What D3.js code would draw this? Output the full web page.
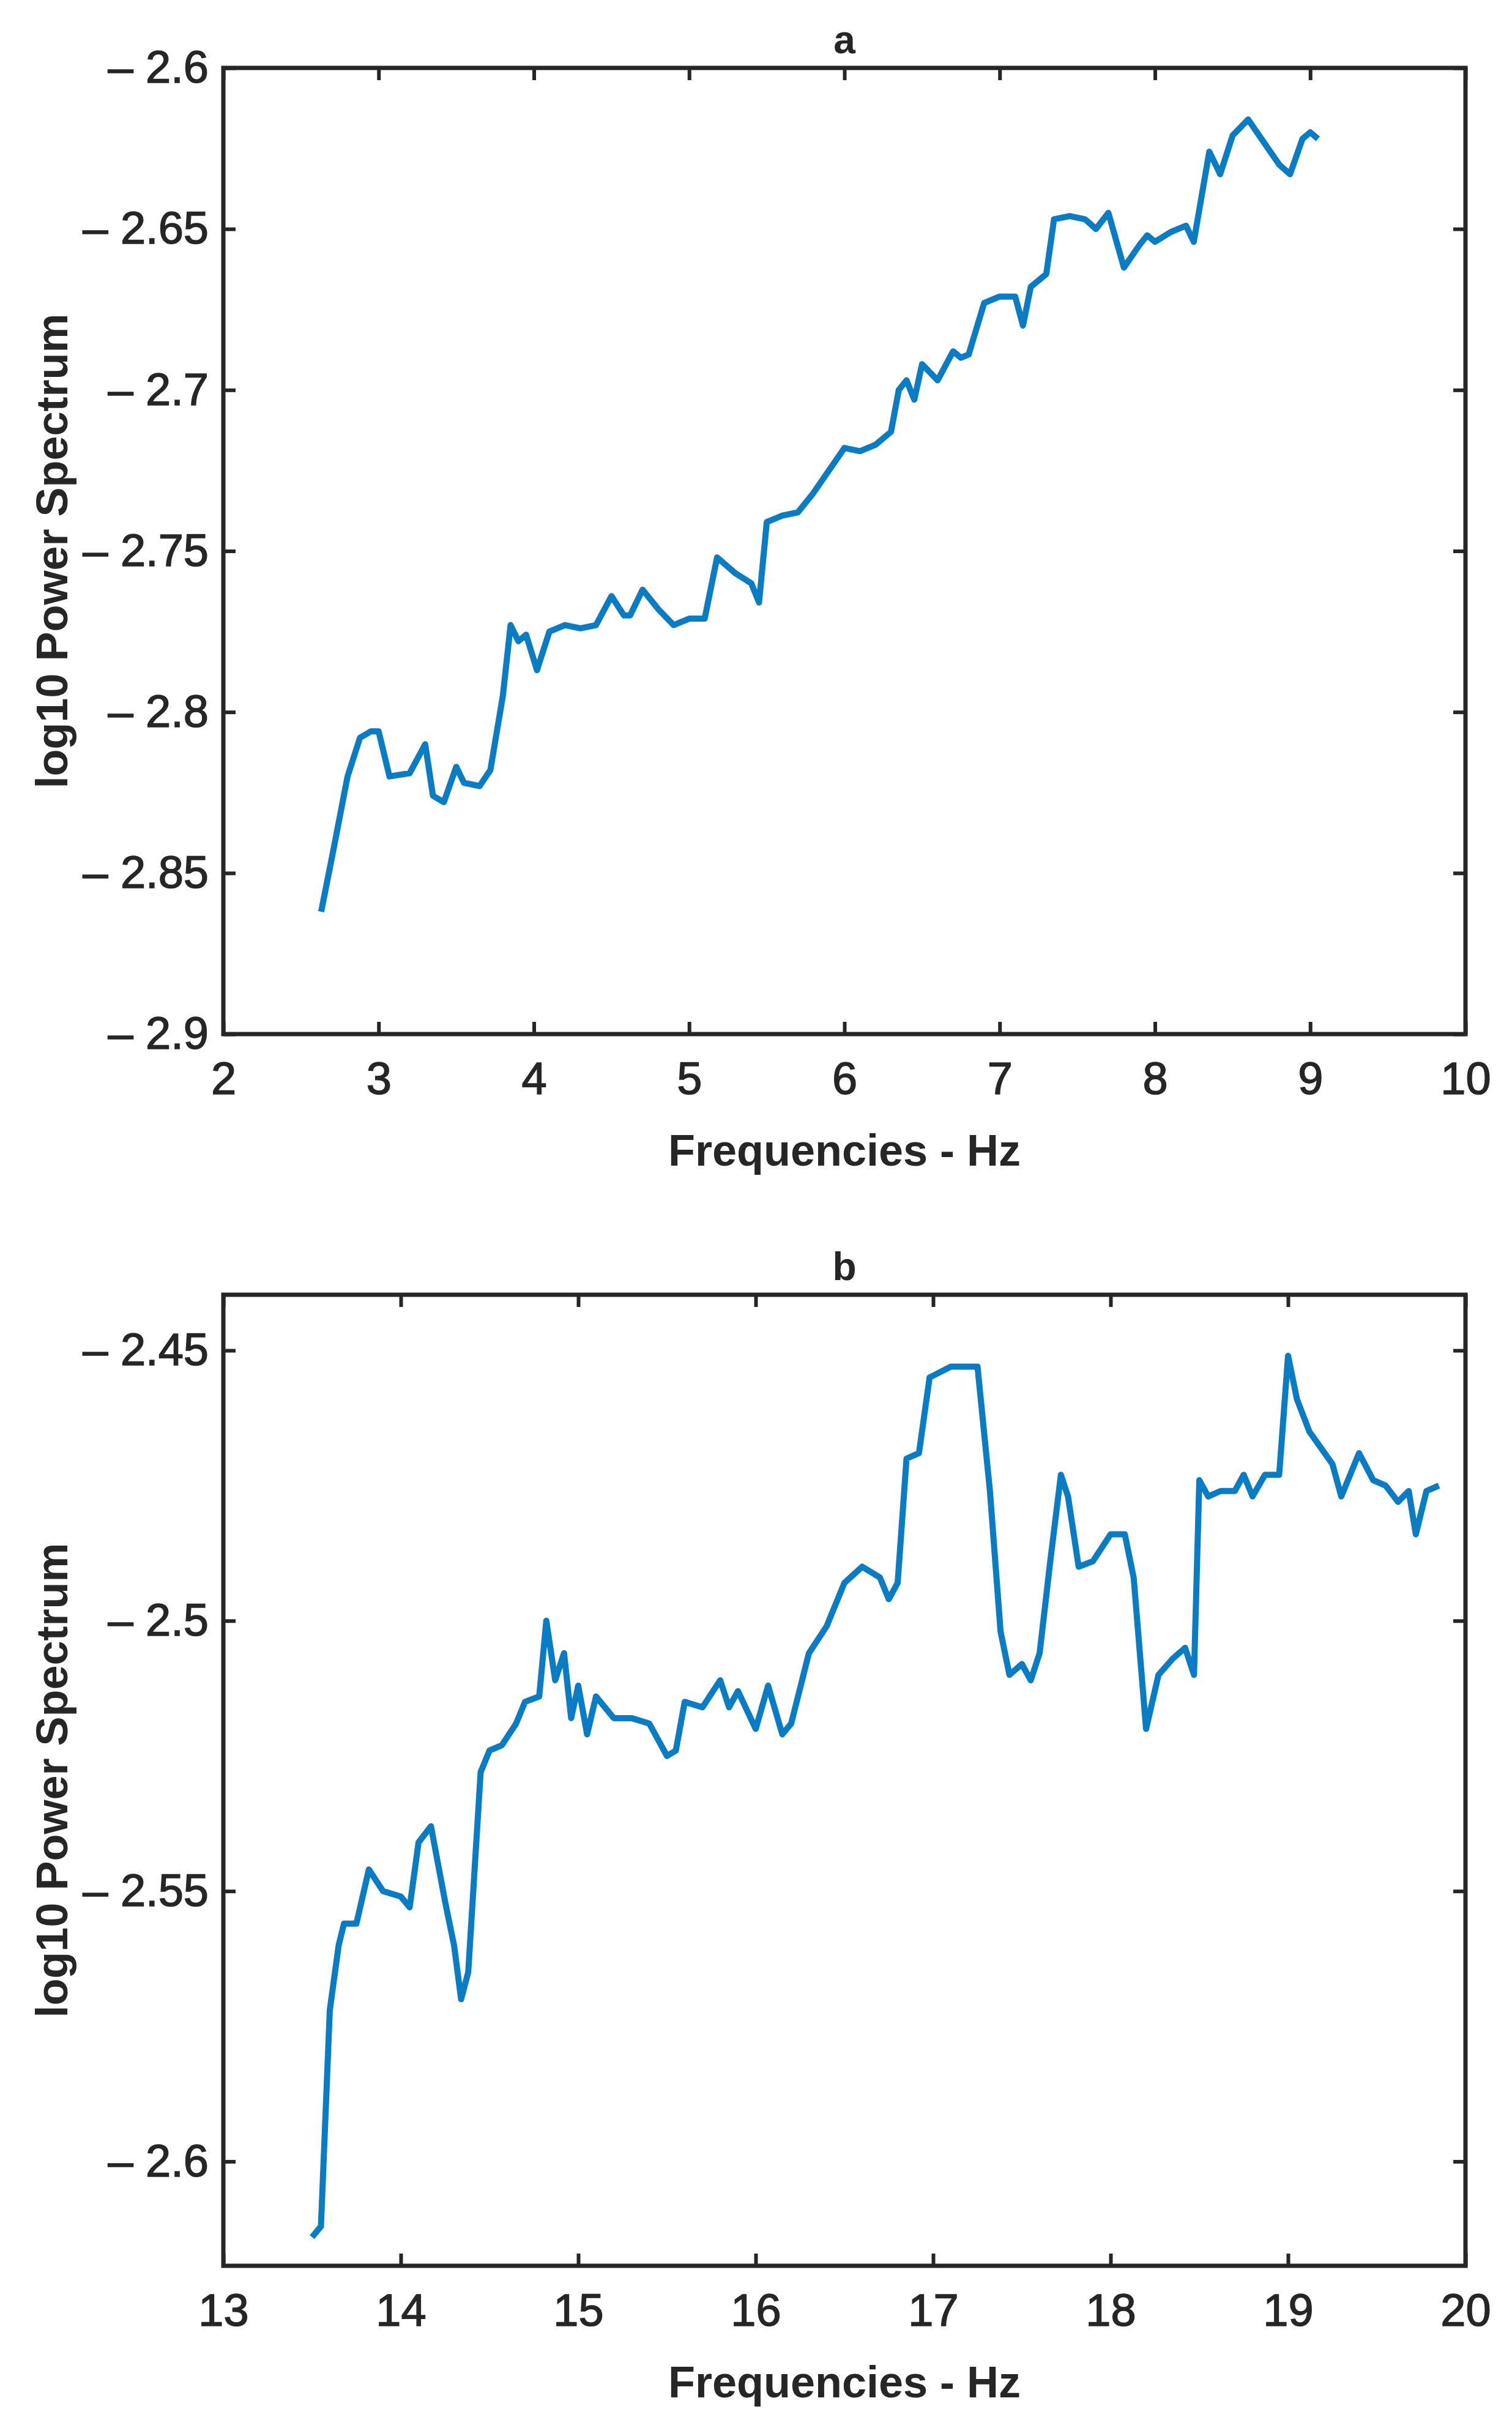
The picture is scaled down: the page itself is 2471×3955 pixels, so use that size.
<!DOCTYPE html>
<html>
<head>
<style>
  body { margin: 0; padding: 0; background: #fff; }
  svg { display: block; }
  text { font-family: "Liberation Sans", Arial, sans-serif; fill: #262626; }
</style>
<script src="https://cdnjs.cloudflare.com/ajax/libs/d3/7.8.5/d3.min.js"></script>
</head>
<body>
<svg width="2471" height="3955"></svg>
<script>
// panel a: 2-10 Hz
const freqA = [2.63,2.7,2.8,2.88,2.95,3.0,3.07,3.2,3.3,3.35,3.42,3.5,3.55,3.65,3.72,3.8,3.85,3.9,3.95,4.02,4.1,4.2,4.3,4.4,4.5,4.58,4.62,4.7,4.8,4.9,5.0,5.1,5.18,5.3,5.4,5.45,5.5,5.6,5.7,5.8,5.9,6.0,6.1,6.2,6.3,6.35,6.4,6.45,6.5,6.6,6.7,6.75,6.8,6.9,7.0,7.1,7.15,7.2,7.3,7.35,7.45,7.55,7.62,7.7,7.8,7.9,7.95,8.0,8.1,8.2,8.25,8.35,8.42,8.5,8.6,8.7,8.8,8.87,8.95,9.0,9.05];
const powerA = [-2.862,-2.845,-2.82,-2.808,-2.806,-2.806,-2.82,-2.819,-2.81,-2.826,-2.828,-2.817,-2.822,-2.823,-2.818,-2.795,-2.773,-2.778,-2.776,-2.787,-2.775,-2.773,-2.774,-2.773,-2.764,-2.770,-2.770,-2.762,-2.768,-2.773,-2.771,-2.771,-2.752,-2.757,-2.760,-2.766,-2.741,-2.739,-2.738,-2.732,-2.725,-2.718,-2.719,-2.717,-2.713,-2.700,-2.697,-2.703,-2.692,-2.697,-2.688,-2.690,-2.689,-2.673,-2.671,-2.671,-2.680,-2.668,-2.664,-2.647,-2.646,-2.647,-2.650,-2.645,-2.662,-2.655,-2.652,-2.654,-2.651,-2.649,-2.654,-2.626,-2.633,-2.621,-2.616,-2.623,-2.630,-2.633,-2.622,-2.620,-2.622];
const xTicksA = [2,3,4,5,6,7,8,9,10];
const yTicksA = [-2.6,-2.65,-2.7,-2.75,-2.8,-2.85,-2.9];

// panel b: 13-20 Hz
const freqB = [13.5,13.55,13.6,13.65,13.68,13.75,13.82,13.9,14.0,14.05,14.1,14.17,14.25,14.3,14.34,14.38,14.45,14.5,14.57,14.65,14.7,14.78,14.82,14.87,14.92,14.96,15.0,15.05,15.1,15.2,15.3,15.4,15.5,15.55,15.6,15.7,15.8,15.85,15.9,16.0,16.07,16.15,16.2,16.3,16.4,16.5,16.6,16.7,16.75,16.8,16.85,16.92,16.98,17.1,17.25,17.32,17.38,17.43,17.5,17.55,17.6,17.66,17.72,17.76,17.82,17.9,18.0,18.08,18.13,18.2,18.27,18.35,18.42,18.47,18.5,18.55,18.62,18.7,18.75,18.8,18.87,18.95,19.0,19.05,19.12,19.25,19.3,19.4,19.48,19.55,19.62,19.68,19.72,19.78,19.85];
const powerB = [-2.614,-2.612,-2.572,-2.560,-2.556,-2.556,-2.546,-2.550,-2.551,-2.553,-2.541,-2.538,-2.552,-2.560,-2.570,-2.565,-2.528,-2.524,-2.523,-2.519,-2.515,-2.514,-2.500,-2.511,-2.506,-2.518,-2.512,-2.521,-2.514,-2.518,-2.518,-2.519,-2.525,-2.524,-2.515,-2.516,-2.511,-2.516,-2.513,-2.520,-2.512,-2.521,-2.519,-2.506,-2.501,-2.493,-2.490,-2.492,-2.496,-2.493,-2.470,-2.469,-2.455,-2.453,-2.453,-2.476,-2.502,-2.510,-2.508,-2.511,-2.506,-2.489,-2.473,-2.477,-2.490,-2.489,-2.484,-2.484,-2.492,-2.520,-2.510,-2.507,-2.505,-2.510,-2.474,-2.477,-2.476,-2.476,-2.473,-2.477,-2.473,-2.473,-2.451,-2.459,-2.465,-2.471,-2.477,-2.469,-2.474,-2.475,-2.478,-2.476,-2.484,-2.476,-2.475];
const xTicksB = [13,14,15,16,17,18,19,20];
const yTicksB = [-2.45,-2.5,-2.55,-2.6];

const svg = d3.select('svg');
const left = 365, right = 2395;
const fmt = d => '\u2013 ' + String(Math.abs(d));

function panel(title, top, bottom, xDom, yDom, xTicks, yTicks, xs, ys) {
  const x = d3.scaleLinear().domain(xDom).range([left, right]);
  const y = d3.scaleLinear().domain(yDom).range([bottom, top]);
  const g = svg.append('g');
  const tl = 20;

  // inward ticks on all four sides
  g.append('g').attr('transform', `translate(0,${bottom})`)
    .call(d3.axisBottom(x).tickValues(xTicks).tickSize(-tl).tickPadding(45).tickFormat(d3.format('d')));
  g.append('g').attr('transform', `translate(0,${top})`)
    .call(d3.axisTop(x).tickValues(xTicks).tickSize(-tl).tickFormat(''));
  g.append('g').attr('transform', `translate(${left},0)`)
    .call(d3.axisLeft(y).tickValues(yTicks).tickSize(-tl).tickPadding(24).tickFormat(fmt));
  g.append('g').attr('transform', `translate(${right},0)`)
    .call(d3.axisRight(y).tickValues(yTicks).tickSize(-tl).tickFormat(''));
  g.selectAll('.domain').remove();
  g.selectAll('.tick line').attr('stroke', '#262626').attr('stroke-width', 6);
  g.selectAll('.tick text').attr('font-size', 74).attr('fill', '#262626')
    .attr('stroke', '#262626').attr('stroke-width', 1.5)
    .attr('font-family', '"Liberation Sans", Arial, sans-serif');

  const line = d3.line().x((d, i) => x(xs[i])).y(d => y(d));
  g.append('path').datum(ys).attr('d', line)
    .attr('fill', 'none').attr('stroke', '#0a7cc4').attr('stroke-width', 10)
    .attr('stroke-linejoin', 'round');

  g.append('rect').attr('x', left).attr('y', top)
    .attr('width', right - left).attr('height', bottom - top)
    .attr('fill', 'none').attr('stroke', '#262626').attr('stroke-width', 7);

  g.append('text').attr('x', (left + right) / 2).attr('y', top - 24)
    .attr('text-anchor', 'middle').attr('font-size', 64).attr('font-weight', 'bold').text(title);
  g.append('text').attr('x', (left + right) / 2).attr('y', bottom + 215)
    .attr('text-anchor', 'middle').attr('font-size', 72).attr('font-weight', 'bold')
    .text('Frequencies - Hz');
  g.append('text')
    .attr('transform', `translate(110,${(top + bottom) / 2}) rotate(-90)`)
    .attr('text-anchor', 'middle').attr('font-size', 72).attr('font-weight', 'bold')
    .text('log10 Power Spectrum');
}

panel('a', 111, 1690, [2, 10], [-2.9, -2.6], xTicksA, yTicksA, freqA, powerA);
panel('b', 2116, 3703, [13, 20], [-2.6193, -2.4397], xTicksB, yTicksB, freqB, powerB);
</script>
</body>
</html>
